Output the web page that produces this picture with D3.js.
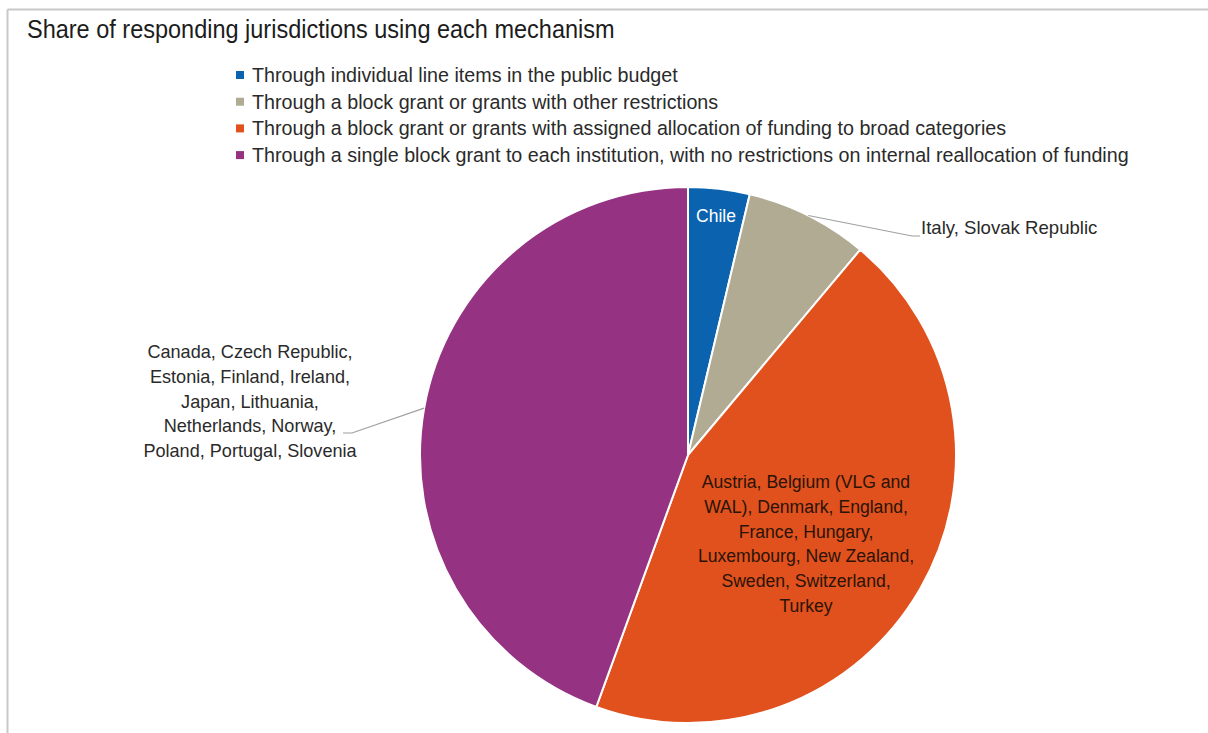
<!DOCTYPE html>
<html>
<head>
<meta charset="utf-8">
<script src="https://cdn.jsdelivr.net/npm/d3@7"></script>
<style>
  html, body { margin: 0; padding: 0; background: #fff; }
  svg { display: block; }
  text { font-family: "Liberation Sans", Arial, sans-serif; }
</style>
</head>
<body>
<svg id="chart" width="1208" height="733"></svg>
<script>
// Funding mechanisms and number of responding jurisdictions using each
const categories = [
  "Through individual line items in the public budget",
  "Through a block grant or grants with other restrictions",
  "Through a block grant or grants with assigned allocation of funding to broad categories",
  "Through a single block grant to each institution, with no restrictions on internal reallocation of funding"
];
const counts = [1, 2, 12, 12];
const colors = ["#0b63b0", "#b0ab92", "#e0511d", "#953382"];
const sliceLabels = [
  ["Chile"],
  ["Italy, Slovak Republic"],
  ["Austria, Belgium (VLG and", "WAL), Denmark, England,", "France, Hungary,", "Luxembourg, New Zealand,", "Sweden, Switzerland,", "Turkey"],
  ["Canada, Czech Republic,", "Estonia, Finland, Ireland,", "Japan, Lithuania,", "Netherlands, Norway,", "Poland, Portugal, Slovenia"]
];
const title = "Share of responding jurisdictions using each mechanism";

const svg = d3.select("#chart");

// frame lines (top and left)
svg.append("line").attr("x1", 7.5).attr("x2", 1208).attr("y1", 9.5).attr("y2", 9.5)
  .attr("stroke", "#c8c8c8").attr("stroke-width", 2);
svg.append("line").attr("x1", 7.5).attr("x2", 7.5).attr("y1", 9.5).attr("y2", 733)
  .attr("stroke", "#c8c8c8").attr("stroke-width", 2);

// slightly condensed title
svg.append("text").attr("transform", "translate(27,38) scale(0.94,1)")
  .attr("font-size", 25).attr("fill", "#1c1c1c").text(title);

// legend
const legend = svg.append("g").attr("transform", "translate(236,75)");
const rowH = 26.7;
categories.forEach((c, i) => {
  const g = legend.append("g").attr("transform", `translate(0,${i * rowH})`);
  g.append("rect").attr("x", 0).attr("y", -4).attr("width", 8).attr("height", 8).attr("fill", colors[i]);
  g.append("text").attr("x", 16).attr("y", 7).attr("font-size", 19.7).attr("fill", "#2a2a2a").text(c);
});

// pie
const cx = 688, cy = 455, r = 268;
const pie = d3.pie().sort(null).value(d => d)(counts);
const arc = d3.arc().innerRadius(0).outerRadius(r);
const edgeArc = d3.arc().innerRadius(r).outerRadius(r);
const gPie = svg.append("g").attr("transform", `translate(${cx},${cy})`);
gPie.selectAll("path").data(pie).join("path")
  .attr("d", arc)
  .attr("fill", (d, i) => colors[i])
  .attr("stroke", "#fff").attr("stroke-width", 2);

function lines(g, arr, x, y0, lh, size, fill, anchor) {
  const t = g.append("text").attr("font-size", size).attr("fill", fill).attr("text-anchor", anchor);
  arr.forEach((s, k) => t.append("tspan").attr("x", x).attr("y", y0 + k * lh).text(s));
}

// Chile label inside the slice
lines(svg, sliceLabels[0], 716, 222, 25, 17.5, "#fff", "middle");

// Italy / Slovak Republic label with leader line from the slice edge
const pGray = edgeArc.centroid(pie[1]);
svg.append("polyline")
  .attr("points", `${cx + pGray[0]},${cy + pGray[1]} 912,236 920,236`)
  .attr("fill", "none").attr("stroke", "#a0a0a0").attr("stroke-width", 1.2);
lines(svg, sliceLabels[1], 921, 234, 25, 18.6, "#2a2a2a", "start");

// label inside the orange slice
lines(svg, sliceLabels[2], 806, 488, 24.8, 17.6, "#2a1408", "middle");

// purple label with leader line
const a = -1.395;
const pPurple = [r * Math.sin(a), -r * Math.cos(a)];
svg.append("polyline")
  .attr("points", `${cx + pPurple[0]},${cy + pPurple[1]} 352,433 343,433`)
  .attr("fill", "none").attr("stroke", "#a0a0a0").attr("stroke-width", 1.2);
lines(svg, sliceLabels[3], 250, 358, 24.8, 18.1, "#2a2a2a", "middle");
</script>
</body>
</html>
